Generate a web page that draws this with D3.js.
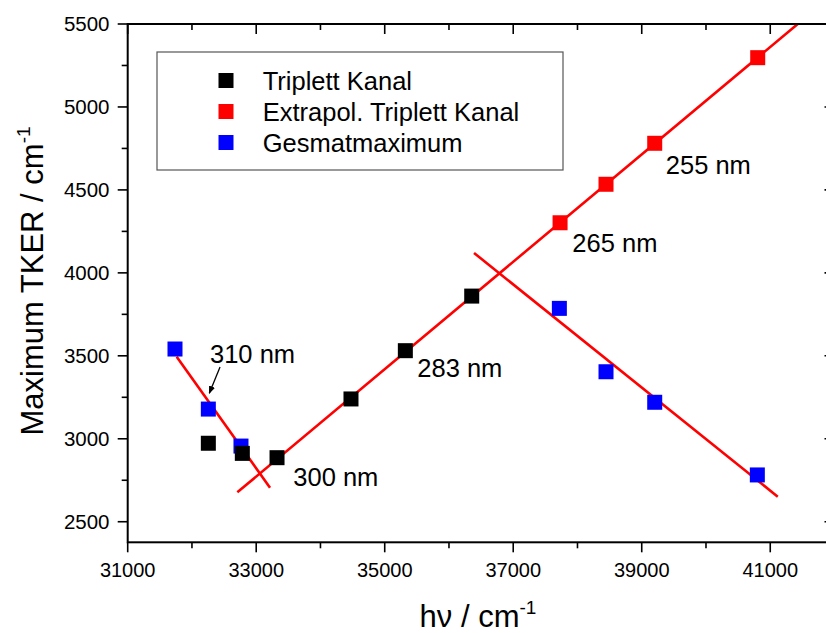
<!DOCTYPE html>
<html>
<head>
<meta charset="utf-8">
<script src="https://d3js.org/d3.v7.min.js"></script>
<style>
  body { margin: 0; background: #fff; }
  svg { display: block; font-family: Arial, "Liberation Sans", Helvetica, sans-serif; }
</style>
</head>
<body>
<svg id="chart" width="826" height="633"></svg>
<script>
// Triplett Kanal (black)
var tripX = [32255, 32784, 33324, 34475, 35321, 36354];
var tripY = [2973, 2912, 2886, 3240, 3531, 3860];
// Extrapol. Triplett Kanal (red)
var extraX = [37729, 38444, 39202, 40805];
var extraY = [4302, 4534, 4781, 5297];
// Gesmatmaximum (blue)
var gesX = [31736, 32255, 32763, 37718, 38444, 39202, 40799];
var gesY = [3541, 3179, 2956, 3786, 3404, 3220, 2782];
// fitted red lines, end points
var fitLines = [
  [[32706, 2677], [41428, 5500]],
  [[36390, 4120], [41117, 2651]],
  [[31762, 3495], [33215, 2705]]
];
var annoLabels = ["310 nm", "300 nm", "283 nm", "265 nm", "255 nm"];
var annoX = [32281, 33577, 35507, 37920, 39374];
var annoY = [3457, 2717, 3370, 4124, 4596];
var arrowPts = [[32437, 3432], [32270, 3274]];
var xTicks = [31000, 33000, 35000, 37000, 39000, 41000];
var xMinor = [32000, 34000, 36000, 38000, 40000, 42000];
var yTicks = [2500, 3000, 3500, 4000, 4500, 5000, 5500];
var yMinor = [2750, 3250, 3750, 4250, 4750, 5250];
var legendNames = ["Triplett Kanal", "Extrapol. Triplett Kanal", "Gesmatmaximum"];
var legendColors = ["#000000", "#ff0000", "#0000ff"];

var svg = d3.select("#chart"),
  pLeft = 127.7, pRight = 834.5, pTop = 24, pBottom = 542.3;

var x = d3.scaleLinear().domain([31000, 42000]).range([pLeft, pRight]);
var y = d3.scaleLinear().domain([2376, 5500]).range([pBottom, pTop]);

var defs = svg.append("defs");
defs.append("clipPath").attr("id", "plot")
  .append("rect")
  .attr("x", pLeft).attr("y", pTop)
  .attr("width", pRight - pLeft).attr("height", pBottom - pTop);

defs.append("marker")
  .attr("id", "arrowhead")
  .attr("viewBox", "0 0 10 10")
  .attr("refX", 9).attr("refY", 5)
  .attr("markerWidth", 8).attr("markerHeight", 8)
  .attr("markerUnits", "userSpaceOnUse")
  .attr("orient", "auto")
  .append("path")
  .attr("d", "M0,1 L10,5 L0,9 Z")
  .attr("fill", "#000");

var plot = svg.append("g").attr("clip-path", "url(#plot)");

// fit lines
plot.selectAll("line.fit")
  .data(fitLines)
  .enter().append("line")
  .attr("class", "fit")
  .attr("x1", function (d) { return x(d[0][0]); })
  .attr("y1", function (d) { return y(d[0][1]); })
  .attr("x2", function (d) { return x(d[1][0]); })
  .attr("y2", function (d) { return y(d[1][1]); })
  .attr("stroke", "#ff0000")
  .attr("stroke-width", 2.6);

var sq = 15;
function drawSquares(xs, ys, color) {
  plot.selectAll(null)
    .data(xs.map(function (v, i) { return [v, ys[i]]; }))
    .enter().append("rect")
    .attr("x", function (d) { return x(d[0]) - sq / 2; })
    .attr("y", function (d) { return y(d[1]) - sq / 2; })
    .attr("width", sq)
    .attr("height", sq)
    .attr("fill", color);
}
drawSquares(extraX, extraY, "#ff0000");
drawSquares(gesX, gesY, "#0000ff");
drawSquares(tripX, tripY, "#000000");

// frame
svg.append("rect")
  .attr("x", pLeft).attr("y", pTop)
  .attr("width", pRight - pLeft).attr("height", pBottom - pTop)
  .attr("fill", "none")
  .attr("stroke", "#000")
  .attr("stroke-width", 2);

// ticks
var axisG = svg.append("g").attr("stroke", "#000").attr("stroke-width", 1.6);
function ticksX(vals, len) {
  axisG.selectAll(null).data(vals).enter().append("line")
    .attr("x1", function (d) { return x(d); }).attr("x2", function (d) { return x(d); })
    .attr("y1", pBottom).attr("y2", pBottom + len);
  axisG.selectAll(null).data(vals).enter().append("line")
    .attr("x1", function (d) { return x(d); }).attr("x2", function (d) { return x(d); })
    .attr("y1", pTop).attr("y2", pTop + len);
}
function ticksY(vals, len) {
  axisG.selectAll(null).data(vals).enter().append("line")
    .attr("y1", function (d) { return y(d); }).attr("y2", function (d) { return y(d); })
    .attr("x1", pLeft).attr("x2", pLeft - len);
  axisG.selectAll(null).data(vals).enter().append("line")
    .attr("y1", function (d) { return y(d); }).attr("y2", function (d) { return y(d); })
    .attr("x1", pRight).attr("x2", pRight - len);
}
ticksX(xTicks, 10);
ticksX(xMinor, 6);
ticksY(yTicks, 10);
ticksY(yMinor, 6);

svg.selectAll("text.xt")
  .data(xTicks)
  .enter().append("text")
  .attr("class", "xt")
  .attr("x", function (d) { return x(d); })
  .attr("y", 577)
  .attr("text-anchor", "middle")
  .attr("font-size", 20)
  .text(function (d) { return d; });

svg.selectAll("text.yt")
  .data(yTicks)
  .enter().append("text")
  .attr("class", "yt")
  .attr("x", 109.5)
  .attr("y", function (d) { return y(d) + 7; })
  .attr("text-anchor", "end")
  .attr("font-size", 20.5)
  .text(function (d) { return d; });

// axis titles
var xt = svg.append("text")
  .attr("x", 478)
  .attr("y", 627)
  .attr("text-anchor", "middle")
  .attr("font-size", 31);
xt.append("tspan").text("h\u03bd / cm");
xt.append("tspan").attr("font-size", 19).attr("dy", -13).text("-1");

var yt = svg.append("text")
  .attr("transform", "translate(43,281)rotate(-90)")
  .attr("text-anchor", "middle")
  .attr("font-size", 31);
yt.append("tspan").text("Maximum TKER / cm");
yt.append("tspan").attr("font-size", 19).attr("dy", -13).text("-1");

// legend
svg.append("rect")
  .attr("x", 157).attr("y", 52)
  .attr("width", 406).attr("height", 118)
  .attr("fill", "#fff")
  .attr("stroke", "#555")
  .attr("stroke-width", 1.2);

var leg = svg.selectAll("g.leg")
  .data(legendNames)
  .enter().append("g")
  .attr("class", "leg")
  .attr("transform", function (d, i) { return "translate(0," + (80.5 + i * 31) + ")"; });
leg.append("rect")
  .attr("x", 218.5).attr("y", -sq / 2)
  .attr("width", sq).attr("height", sq)
  .attr("fill", function (d, i) { return legendColors[i]; });
leg.append("text")
  .attr("x", 262.7)
  .attr("y", 9)
  .attr("font-size", 25.5)
  .text(function (d) { return d; });

// annotations
svg.selectAll("text.anno")
  .data(annoLabels)
  .enter().append("text")
  .attr("class", "anno")
  .attr("x", function (d, i) { return x(annoX[i]); })
  .attr("y", function (d, i) { return y(annoY[i]); })
  .attr("font-size", 25.5)
  .text(function (d) { return d; });

svg.append("line")
  .attr("x1", x(arrowPts[0][0])).attr("y1", y(arrowPts[0][1]))
  .attr("x2", x(arrowPts[1][0])).attr("y2", y(arrowPts[1][1]))
  .attr("stroke", "#000")
  .attr("stroke-width", 1.3)
  .attr("marker-end", "url(#arrowhead)");
</script>
</body>
</html>
